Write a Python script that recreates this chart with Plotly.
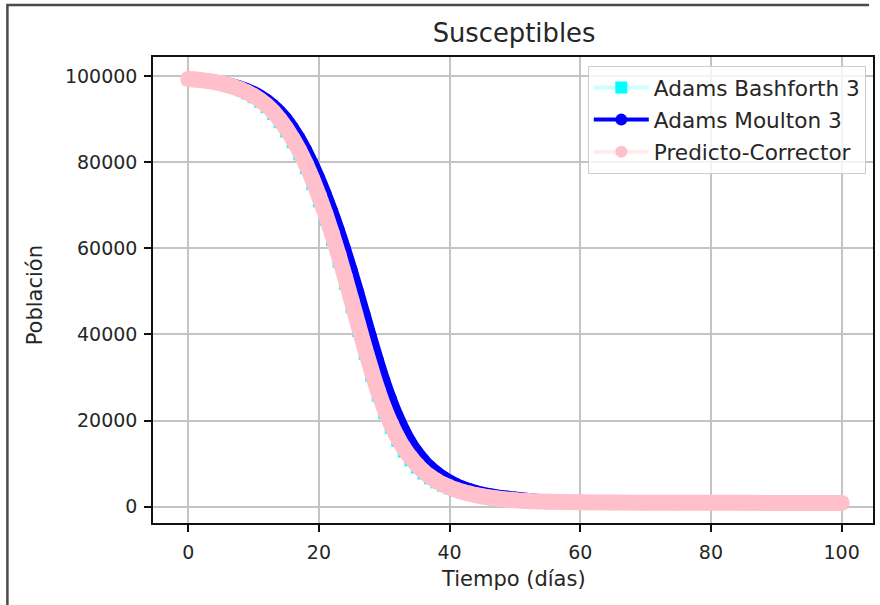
import plotly.graph_objects as go

# Time axis (days) shared by the three solvers
dias = list(range(0, 51)) + [52, 55, 60, 65, 70, 75, 80, 85, 90, 95, 100]

# Susceptible population per method
adams_bashforth = [99250, 99150, 98990, 98780, 98510, 98180, 97760, 97280, 96700, 95960,
                   95100, 94050, 92780, 91200, 89300, 87100, 84600, 81800, 78600, 74900,
                   70900, 66600, 61900, 56900, 51700, 46300, 40800, 35500, 30400, 25800,
                   21700, 18300, 15300, 12800, 10800, 9100, 7700, 6600, 5650, 4850,
                   4250, 3750, 3300, 2920, 2600, 2320, 2080, 1900, 1740, 1600,
                   1480, 1300, 1150, 1020, 960, 920, 900, 890, 885, 880, 875, 875]
adams_moulton = [99400, 99300, 99200, 99050, 98850, 98600, 98300, 97950, 97500, 96950,
                 96300, 95500, 94500, 93300, 91900, 90200, 88100, 85700, 83000, 79900,
                 76500, 72800, 68800, 64500, 59900, 55000, 49900, 44600, 39300, 34200,
                 29400, 25100, 21300, 18000, 15200, 12900, 11000, 9400, 8100, 7000,
                 6100, 5300, 4650, 4100, 3650, 3250, 2950, 2700, 2500, 2300,
                 2150, 1800, 1400, 1100, 1000, 960, 940, 925, 915, 910, 905, 900]
predictor_corrector = [99300, 99200, 99050, 98850, 98600, 98300, 97900, 97450, 96900, 96200,
                       95400, 94400, 93200, 91700, 89900, 87800, 85400, 82700, 79600, 76100,
                       72200, 68000, 63400, 58500, 53300, 47900, 42400, 37000, 31900, 27100,
                       22900, 19300, 16200, 13600, 11500, 9700, 8200, 7000, 6000, 5150,
                       4500, 3950, 3450, 3050, 2700, 2400, 2150, 1950, 1780, 1630,
                       1500, 1320, 1170, 1040, 975, 935, 910, 900, 890, 885, 880, 880]

x_ticks = [0, 20, 40, 60, 80, 100]
y_ticks = [0, 20000, 40000, 60000, 80000, 100000]

CYAN = "#00FFFF"
BLUE = "#0000FF"
PINK = "#FFC0CB"
FONT = "DejaVu Sans"
TEXT = "#262626"

fig = go.Figure()

# Data traces (legend entries are drawn by separate proxy traces below)
fig.add_trace(go.Scatter(
    x=dias, y=adams_bashforth, mode="lines+markers", showlegend=False,
    line=dict(color="rgba(0,255,255,0.2)", width=3, shape="spline"),
    marker=dict(symbol="square", size=12, color=CYAN, line=dict(width=0)),
))
fig.add_trace(go.Scatter(
    x=dias, y=adams_moulton, mode="lines+markers", showlegend=False,
    line=dict(color=BLUE, width=12, shape="spline"),
    marker=dict(symbol="circle", size=12, color=BLUE, line=dict(width=0)),
))
fig.add_trace(go.Scatter(
    x=dias, y=predictor_corrector, mode="lines+markers", showlegend=False,
    line=dict(color=PINK, width=16, shape="spline"),
    marker=dict(symbol="circle", size=16, color=PINK, line=dict(width=0)),
))

# Legend proxies
legend_items = [
    ("Adams Bashforth 3", "rgba(0,255,255,0.2)", 4, "square", CYAN),
    ("Adams Moulton 3", BLUE, 4, "circle", BLUE),
    ("Predicto-Corrector", "rgba(255,192,203,0.3)", 4, "circle", PINK),
]
for name, lc, lw, sym, mc in legend_items:
    fig.add_trace(go.Scatter(
        x=[None], y=[None], mode="lines+markers", name=name, legendgroup=name,
        line=dict(color=lc, width=lw),
        marker=dict(symbol=sym, size=12, color=mc, line=dict(width=0)),
    ))

axis_common = dict(
    showgrid=True, gridcolor="#c4c4c4", gridwidth=1.5,
    showline=True, linecolor="#111111", linewidth=1.5, mirror=True,
    ticks="outside", ticklen=7, tickwidth=1.5, tickcolor="#111111",
    tickfont=dict(family=FONT, size=19, color=TEXT),
    zeroline=False,
)

fig.update_xaxes(range=[-5.39, 104.8], tickvals=x_ticks, ticklabelstandoff=4, **axis_common)
fig.update_yaxes(range=[-3785, 104413], tickvals=y_ticks, tickformat="d",
                 ticklabelstandoff=3, **axis_common)

fig.update_layout(
    width=880, height=605,
    margin=dict(l=153, r=5, t=57, b=82),
    plot_bgcolor="white", paper_bgcolor="white",
    font=dict(family=FONT, color=TEXT),
    title=dict(text="Susceptibles", x=514 / 880, xanchor="center",
               y=1 - 33 / 605, yanchor="middle", yref="container",
               font=dict(family=FONT, size=25.8, color=TEXT)),
    legend=dict(
        x=0.99, y=(523 - 66) / 466, xanchor="right", yanchor="top",
        bgcolor="rgba(255,255,255,0.8)", bordercolor="#cccccc", borderwidth=1,
        font=dict(family=FONT, size=21.6, color=TEXT),
        tracegroupgap=1, itemwidth=55,
    ),
    annotations=[
        dict(text="Tiempo (días)", x=0.5, y=(523 - 579) / 466, xref="paper", yref="paper",
             xanchor="center", yanchor="middle", showarrow=False,
             font=dict(family=FONT, size=21, color=TEXT)),
        dict(text="Población", x=(35 - 153) / 722, y=(523 - 295) / 466, xref="paper",
             yref="paper", xanchor="center", yanchor="middle", textangle=-90,
             showarrow=False, font=dict(family=FONT, size=21, color=TEXT)),
    ],
    shapes=[
        dict(type="path", xref="paper", yref="paper",
             path=f"M {(7 - 153) / 722} {(523 - 610) / 466} L {(7 - 153) / 722} {(523 - 5) / 466} "
                  f"L {(871 - 153) / 722} {(523 - 5) / 466}",
             line=dict(color="#4a4a4a", width=2.5)),
    ],
)

fig.write_html("out.html")
